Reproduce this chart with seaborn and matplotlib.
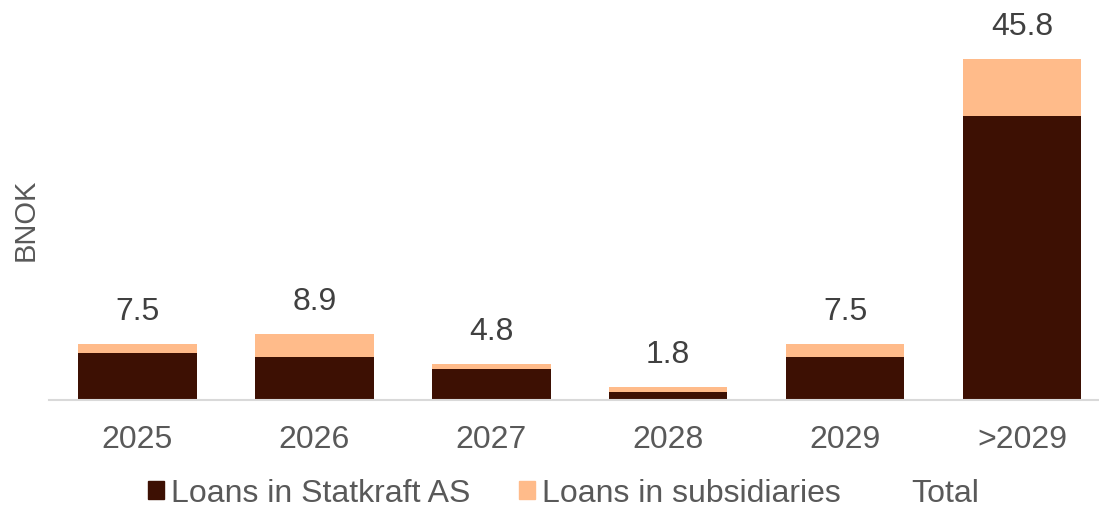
import matplotlib
matplotlib.use("Agg")
import matplotlib.pyplot as plt
import seaborn as sns
import pandas as pd
from matplotlib.patches import Patch
from matplotlib.lines import Line2D

categories = ["2025", "2026", "2027", "2028", "2029", ">2029"]
statkraft_as = [6.3, 5.8, 4.1, 1.1, 5.8, 38.1]
subsidiaries = [1.2, 3.1, 0.7, 0.7, 1.7, 7.7]
total_labels = ["7.5", "8.9", "4.8", "1.8", "7.5", "45.8"]

totals = [a + b for a, b in zip(statkraft_as, subsidiaries)]
df = pd.DataFrame({"year": categories, "as": statkraft_as, "sub": subsidiaries, "total": totals})

sns.set_theme(style="white")
plt.rcParams["font.family"] = ["Liberation Sans", "DejaVu Sans"]

DARK = "#3D1003"
LIGHT = "#FFBB8A"
TICK = "#595959"
LBL = "#404040"

fig = plt.figure(figsize=(10.99, 5.12), dpi=100)
ax = fig.add_axes([49 / 1099, 112 / 512, 1050 / 1099, 400 / 512])

sns.barplot(data=df, x="year", y="total", color=LIGHT, width=0.67, ax=ax,
            saturation=1, linewidth=0)
sns.barplot(data=df, x="year", y="as", color=DARK, width=0.67, ax=ax,
            saturation=1, linewidth=0)

for i, (t, lab) in enumerate(zip(totals, total_labels)):
    ax.annotate(lab, xy=(i, t), xytext=(0, 23), textcoords="offset points",
                ha="center", va="center", fontsize=23, color=LBL)

ax.set_xlim(-0.5, 5.435)
ax.set_ylim(0, 53.73)
ax.set_yticks([])
ax.set_xlabel("")
ax.set_ylabel("BNOK", fontsize=21, color=TICK, labelpad=0)
ax.yaxis.set_label_coords(-9 / 1050, 0.45)
ax.tick_params(axis="x", labelsize=23, colors=TICK, length=0, pad=18)
for s in ["top", "right", "left"]:
    ax.spines[s].set_visible(False)
ax.spines["bottom"].set_color("#D9D9D9")
ax.spines["bottom"].set_linewidth(1.5)

handles = [Patch(color=DARK), Patch(color=LIGHT), Line2D([], [], color="none")]
labels = ["Loans in Statkraft AS", "Loans in subsidiaries", "Total"]
leg = fig.legend(handles, labels, loc="center", bbox_to_anchor=(0.513, 0.036), ncol=3,
                 frameon=False, fontsize=23, handlelength=0.5, handleheight=0.5,
                 handletextpad=0.22, columnspacing=1.5, borderpad=0)
for t in leg.get_texts():
    t.set_color(TICK)

fig.savefig("out.png", dpi=100)
